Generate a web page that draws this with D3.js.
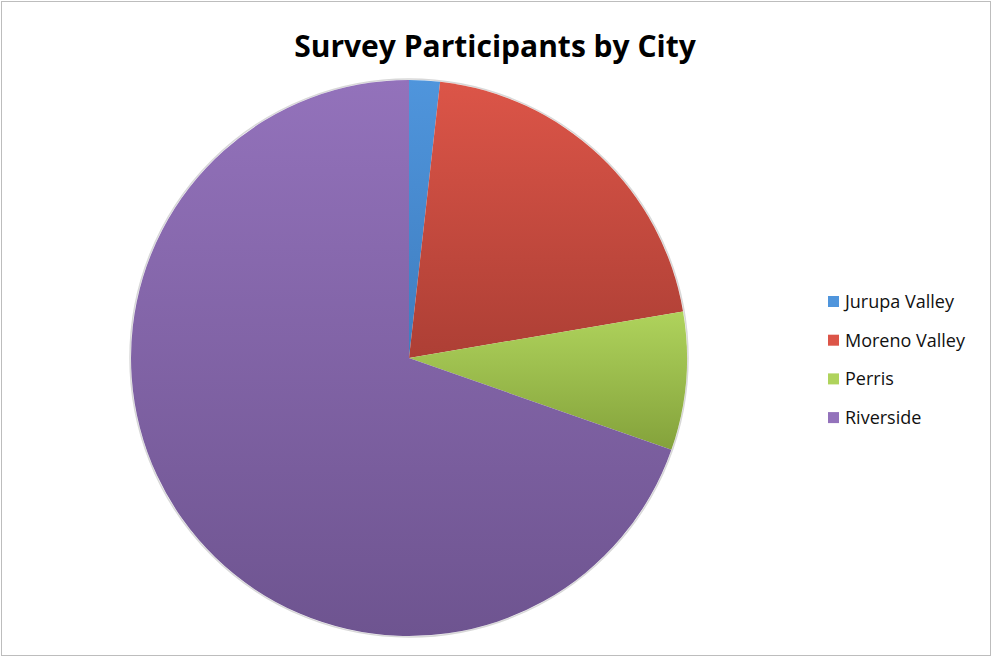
<!DOCTYPE html>
<html>
<head>
<meta charset="utf-8">
<script src="https://cdn.jsdelivr.net/npm/d3@7"></script>
<style>
  body { margin: 0; background: #fff; }
  svg { display: block; }
</style>
</head>
<body>
<div id="chart"></div>
<script>
// Data
const cities = ["Jurupa Valley", "Moreno Valley", "Perris", "Riverside"];
const participants = [2, 23, 9, 78];
const topColors = ["#4f95dc", "#dc5548", "#afd35c", "#9372bb"];
const bottomColors = ["#3f7dbf", "#ad3f35", "#84a23b", "#6e5490"];

const width = 993, height = 658;
const cx = 409, cy = 358, radius = 278;

const svg = d3.select("#chart")
    .append("svg")
    .attr("width", width)
    .attr("height", height);

// chart frame
svg.append("rect")
    .attr("x", 1.5).attr("y", 1.5)
    .attr("width", width - 4).attr("height", height - 4)
    .attr("fill", "#fff")
    .attr("stroke", "#bdbdbd");

svg.append("text")
    .attr("x", 495)
    .attr("y", 57)
    .attr("text-anchor", "middle")
    .style("font-family", "'Open Sans', sans-serif")
    .style("font-weight", "bold")
    .style("font-size", "30px")
    .style("fill", "#000")
    .text("Survey Participants by City");

const defs = svg.append("defs");
cities.forEach((c, i) => {
    const g = defs.append("linearGradient")
        .attr("id", "grad" + i)
        .attr("x1", "0%").attr("y1", "0%")
        .attr("x2", "0%").attr("y2", "100%");
    g.append("stop").attr("offset", "0%").attr("stop-color", topColors[i]);
    g.append("stop").attr("offset", "100%").attr("stop-color", bottomColors[i]);
});

const pie = d3.pie().sort(null).value(d => d);
const arc = d3.arc().innerRadius(0).outerRadius(radius);

const pieG = svg.append("g")
    .attr("transform", `translate(${cx},${cy})`);

// faint shadow rim
pieG.append("circle")
    .attr("r", radius + 1)
    .attr("fill", "none")
    .attr("stroke", "#d8d8d8")
    .attr("stroke-width", 1.5);

pieG.selectAll("path")
    .data(pie(participants))
    .enter()
    .append("path")
    .attr("d", arc)
    .attr("fill", (d, i) => `url(#grad${i})`);

// legend
const legend = svg.append("g")
    .attr("transform", "translate(828, 302)");

const rows = legend.selectAll("g")
    .data(cities)
    .enter()
    .append("g")
    .attr("transform", (d, i) => `translate(0, ${i * 38.7})`);

rows.append("rect")
    .attr("x", 0).attr("y", -6)
    .attr("width", 11).attr("height", 11)
    .attr("fill", (d, i) => topColors[i]);

rows.append("text")
    .attr("x", 17)
    .attr("y", 6)
    .style("font-family", "'Open Sans', sans-serif")
    .style("font-size", "18px")
    .style("fill", "#111")
    .text(d => d);
</script>
</body>
</html>
